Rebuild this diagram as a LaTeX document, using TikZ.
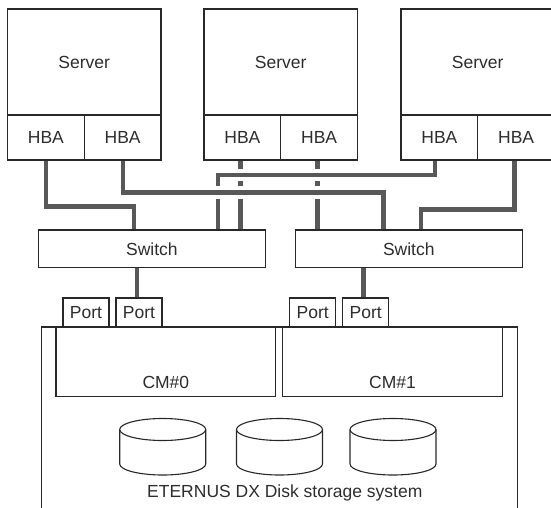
\documentclass[tikz,border=0pt]{standalone}
\usepackage{fontspec}
\setmainfont{Liberation Sans}
\usepackage{xcolor}
\usepackage{tikz}
\usetikzlibrary{positioning,calc,backgrounds}
\definecolor{sanline}{RGB}{40,40,40}
\definecolor{santext}{RGB}{45,45,45}
\definecolor{sancable}{RGB}{88,88,88}

\begin{document}
\begin{tikzpicture}[
  x=1pt, y=-1pt,
  every node/.style={inner sep=0pt, outer sep=0pt},
  box/.style={rectangle, draw=sanline, fill=white, line width=1.1pt,
    text=santext, font=\fontsize{17.5}{20}\selectfont},
  srvbox/.style={box, minimum width=153.5pt, minimum height=106pt},
  hbabox/.style={box, minimum width=76.75pt, minimum height=45pt},
  swbox/.style={box, minimum width=227.5pt, minimum height=37.7pt},
  portbox/.style={box, minimum width=46pt, minimum height=29pt},
  cmbox/.style={box, minimum width=219.7pt, minimum height=69.7pt},
  lbl/.style={text=santext, font=\fontsize{17.5}{20}\selectfont},
  cable/.style={draw=sancable, line width=4.5pt},
  bridge/.style={cable, preaction={draw=white, line width=12.5pt}},
  disk/.style={draw=sanline, fill=white, line width=1.1pt},
]
\useasboundingbox (0,0) rectangle (551,508);
% servers and their HBAs
\node[srvbox] (srv1) at (84.25,62) {Server};
\node[srvbox] (srv2) at (280.75,62) {Server};
\node[srvbox] (srv3) at (477.75,62) {Server};
\node[hbabox, below right=0pt and 0pt of srv1.south west] (hba11) {HBA};
\node[hbabox, right=0pt of hba11] (hba12) {HBA};
\node[hbabox, below right=0pt and 0pt of srv2.south west] (hba21) {HBA};
\node[hbabox, right=0pt of hba21] (hba22) {HBA};
\node[hbabox, below right=0pt and 0pt of srv3.south west] (hba31) {HBA};
\node[hbabox, right=0pt of hba31] (hba32) {HBA};
% switches
\node[swbox] (sw1) at (151.85,248.85) {Switch};
\node[swbox] (sw2) at (408.8,248.85) {Switch};
% storage system
\node[minimum width=475.6pt, minimum height=181pt] (stor) at (279.5,417.5) {};
\draw[line width=1.1pt, draw=sanline] (stor.south west) |- (stor.north east)
  -- (stor.south east);
\node[cmbox, below right=0pt and 14.3pt of stor.north west] (cm0) {};
\node[cmbox, right=7pt of cm0] (cm1) {};
\node[lbl] (cm0lbl) at ($(cm0.south)+(0,-14)$) {CM\#0};
\node[lbl] (cm1lbl) at ($(cm1.south)+(0,-14)$) {CM\#1};
\node[portbox, above right=0pt and 7pt of cm0.north west] (port01) {Port};
\node[portbox, right=7pt of port01] (port02) {Port};
\node[portbox, above right=0pt and 7pt of cm1.north west] (port11) {Port};
\node[portbox, right=7pt of port11] (port12) {Port};
\foreach \cx in {162.7,279.5,393} {
  \draw[disk] (\cx-43,429.5) -- (\cx-43,464)
    arc[start angle=180, end angle=0, x radius=43, y radius=11]
    -- (\cx+43,429.5);
  \draw[disk] (\cx,429.5) ellipse[x radius=43, y radius=11];
}
\node[lbl] (storlbl) at (284.8,492.7) {ETERNUS DX Disk storage system};
% cables
\begin{scope}[on background layer]
\draw[cable] ([xshift=-2pt]hba21.south) -- ([xshift=-2pt]hba21.south |- sw1.north);
\draw[cable] ([xshift=-1.5pt]hba22.south) -- ([xshift=-1.5pt]hba22.south |- sw2.north);
\draw[bridge] ([xshift=-4.5pt]hba31.south) -- ++(0,15) -| ([xshift=66pt]sw1.north);
\draw[bridge] ([xshift=0.5pt]hba12.south) -- ++(0,32.7) -| ([xshift=-25.5pt]sw2.north);
\draw[cable] (hba11.south) -- ++(0,46.7) -| ([xshift=-18pt]sw1.north);
\draw[cable] ([xshift=-1.5pt]hba32.south) -- ++(0,49.3) -| ([xshift=12pt]sw2.north);
\draw[cable] ([xshift=-2pt]port02.north) -- ([xshift=-2pt]port02.north |- sw1.south);
\draw[cable] ([xshift=-2pt]port12.north) -- ([xshift=-2pt]port12.north |- sw2.south);
\end{scope}
\end{tikzpicture}
\end{document}
